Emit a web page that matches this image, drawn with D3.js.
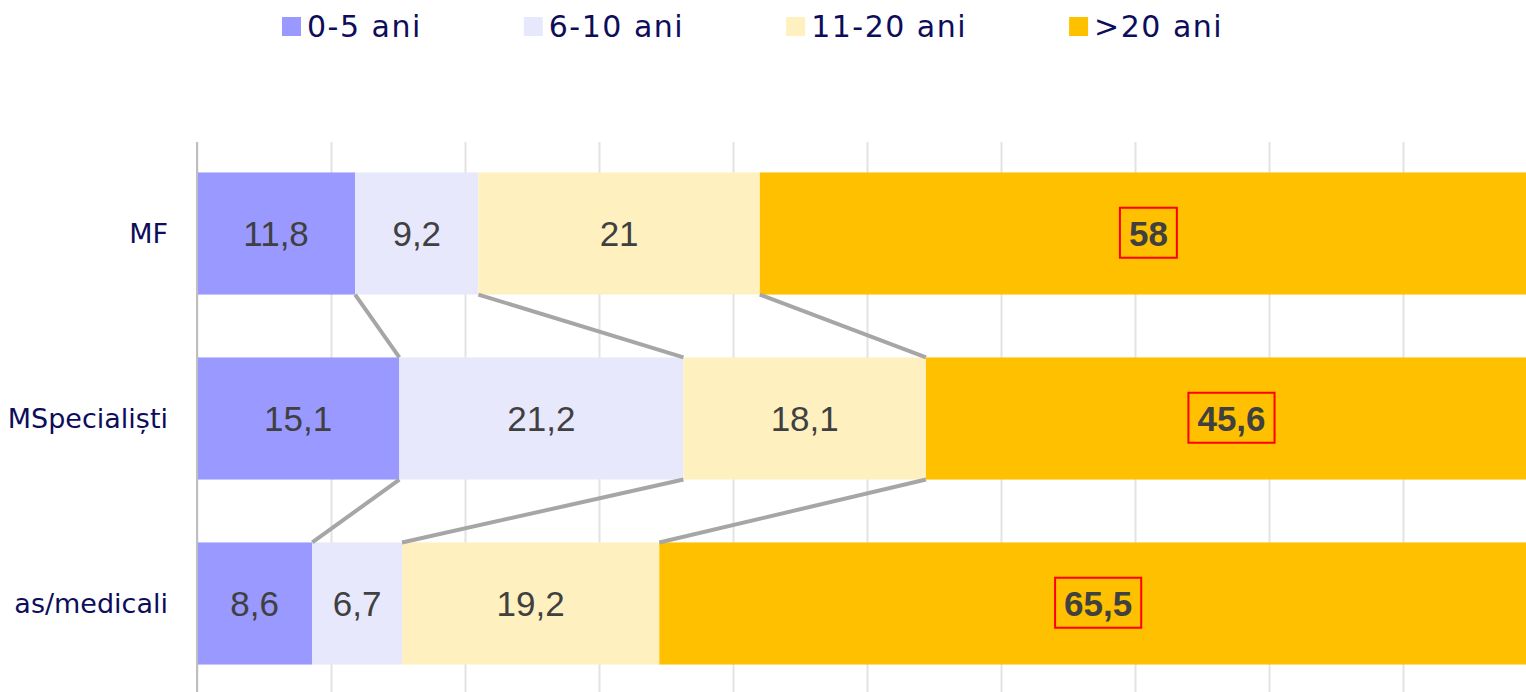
<!DOCTYPE html>
<html>
<head>
<meta charset="utf-8">
<script src="https://cdn.jsdelivr.net/npm/d3@7"></script>
<style>
  html, body { margin: 0; padding: 0; background: #fff; overflow: hidden; }
  svg { display: block; }
</style>
</head>
<body>
<svg id="chart" width="1526" height="692"></svg>
<script>
// Staff seniority shares (%) per professional group
const categories = ["MF", "MSpecialiști", "as/medicali"];
const seriesNames = ["0-5 ani", "6-10 ani", "11-20 ani", ">20 ani"];
const years0to5 = [11.8, 15.1, 8.6];
const years6to10 = [9.2, 21.2, 6.7];
const years11to20 = [21, 18.1, 19.2];
const yearsOver20 = [58, 45.6, 65.5];
const seriesColors = ["#9999ff", "#e8e8fc", "#fff0c0", "#ffc000"];

const table = categories.map((c, i) => ({
  cat: c,
  [seriesNames[0]]: years0to5[i],
  [seriesNames[1]]: years6to10[i],
  [seriesNames[2]]: years11to20[i],
  [seriesNames[3]]: yearsOver20[i]
}));

const svg = d3.select("#chart");
const W = 1526, H = 692;

const x = d3.scaleLinear().domain([0, 100]).range([197, 1537]);
const y = d3.scaleBand().domain(categories).range([141, 696])
  .paddingInner(0.34).paddingOuter(0.17);
const color = d3.scaleOrdinal().domain(seriesNames).range(seriesColors);

const fmt = v => String(v).replace(".", ",");

// vertical gridlines
const grid = svg.append("g")
  .attr("transform", `translate(0,142)`)
  .call(d3.axisBottom(x).ticks(10).tickSize(H - 142).tickFormat(""));
grid.select(".domain").remove();
grid.selectAll(".tick line").attr("stroke", "#e3e3e3").attr("stroke-width", 2);

// stacked bars
const stacked = d3.stack().keys(seriesNames)(table);

const layers = svg.append("g").selectAll("g")
  .data(stacked)
  .join("g")
  .attr("fill", d => color(d.key));

layers.selectAll("rect")
  .data(d => d.map(p => Object.assign(p, { key: d.key })))
  .join("rect")
  .attr("x", d => x(d[0]))
  .attr("y", d => y(d.data.cat))
  .attr("width", d => x(d[1]) - x(d[0]))
  .attr("height", y.bandwidth());

// connector lines between consecutive bars at each segment boundary
const connectors = [];
for (let s = 0; s < seriesNames.length - 1; s++) {
  for (let i = 0; i < categories.length - 1; i++) {
    connectors.push({
      x1: x(stacked[s][i][1]), y1: y(categories[i]) + y.bandwidth(),
      x2: x(stacked[s][i + 1][1]), y2: y(categories[i + 1])
    });
  }
}
svg.append("g").selectAll("line")
  .data(connectors)
  .join("line")
  .attr("x1", d => d.x1).attr("y1", d => d.y1)
  .attr("x2", d => d.x2).attr("y2", d => d.y2)
  .attr("stroke", "#a6a6a6")
  .attr("stroke-width", 4);

// category axis
const yAxis = svg.append("g")
  .attr("transform", `translate(${x(0)},0)`)
  .call(d3.axisLeft(y).tickSize(0).tickPadding(29));
yAxis.select(".domain").remove();
yAxis.selectAll("text")
  .attr("font-family", "DejaVu Sans, sans-serif")
  .attr("font-size", 27)
  .attr("fill", "#0d0d5b")
  .attr("dy", "0.35em");
svg.append("line")
  .attr("x1", x(0)).attr("x2", x(0))
  .attr("y1", 142).attr("y2", H)
  .attr("stroke", "#bfbfbf").attr("stroke-width", 2);

// value labels
const lastKey = seriesNames[seriesNames.length - 1];
const labels = svg.append("g").selectAll("g")
  .data(stacked.flat())
  .join("g")
  .attr("transform", d => `translate(${(x(d[0]) + x(d[1])) / 2},${y(d.data.cat) + y.bandwidth() / 2})`);

labels.append("text")
  .attr("text-anchor", "middle")
  .attr("dy", "0.35em")
  .attr("font-family", "Liberation Sans, Arial, sans-serif")
  .attr("font-size", 35)
  .attr("font-weight", d => d.key === lastKey ? "bold" : "normal")
  .attr("fill", "#404040")
  .text(d => fmt(d.data[d.key]));

labels.filter(d => d.key === lastKey).each(function () {
  const g = d3.select(this);
  const bb = g.select("text").node().getBBox();
  g.insert("rect", "text")
    .attr("x", bb.x - 9)
    .attr("y", bb.y - 6)
    .attr("width", bb.width + 18)
    .attr("height", bb.height + 11)
    .attr("fill", "none")
    .attr("stroke", "#ff0000")
    .attr("stroke-width", 2);
});

// legend
const legend = svg.append("g");
let lx = 282;
seriesNames.forEach((name, i) => {
  const item = legend.append("g").attr("transform", `translate(${lx},0)`);
  item.append("rect")
    .attr("x", 0).attr("y", 17)
    .attr("width", 19).attr("height", 19)
    .attr("fill", color(name));
  const t = item.append("text")
    .attr("x", 25).attr("y", 37)
    .attr("font-family", "DejaVu Sans, sans-serif")
    .attr("font-size", 30)
    .attr("letter-spacing", 1.5)
    .attr("fill", "#0d0d5b")
    .text(name);
  lx += 25 + t.node().getComputedTextLength() + 102;
});
</script>
</body>
</html>
